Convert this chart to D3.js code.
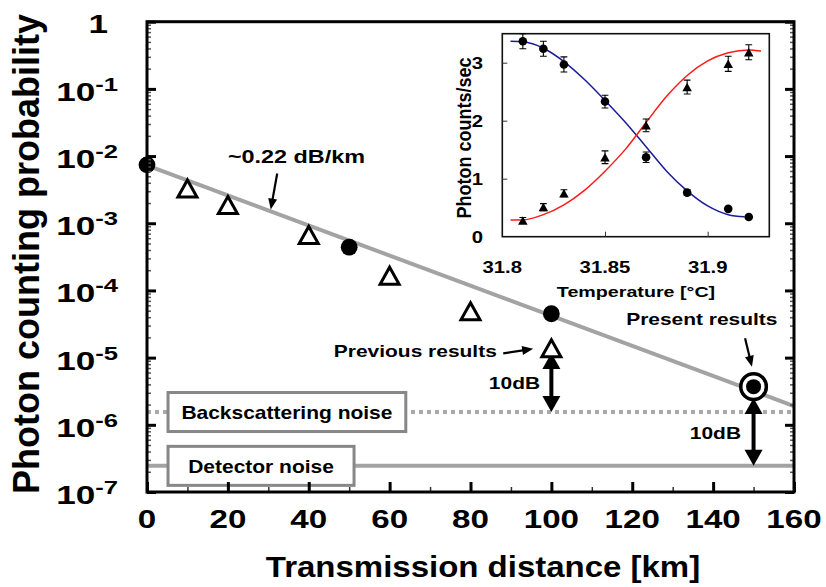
<!DOCTYPE html>
<html>
<head>
<meta charset="utf-8">
<script src="https://cdn.jsdelivr.net/npm/d3@7"></script>
<style>
  body { margin: 0; background: #fff; }
  text { font-family: "Liberation Sans", Arial, Helvetica, sans-serif; font-weight: bold; fill: #000; }
</style>
</head>
<body>
<svg id="chart" width="826" height="587"></svg>
<script>
// ---- main plot values ----
const presentKm = [0, 50, 100, 150];
const presentProb = [7.4e-3, 4.4e-4, 4.5e-5, 3.7e-6];
const previousKm = [10, 20, 40, 60, 80, 100];
const previousProb = [3.3e-3, 1.87e-3, 6.7e-4, 1.66e-4, 4.9e-5, 1.38e-5];
const fitKm = [0, 160];
const fitProb = [7.3e-3, 1.9e-6];
const backscatterNoise = 1.55e-6;
const detectorNoise = 2.45e-7;
const dbArrowKm = [100, 150];
const dbArrowTop = [1.17e-5, 2.5e-6];
const dbArrowBottom = [backscatterNoise, detectorNoise];
const xTicks = [0, 20, 40, 60, 80, 100, 120, 140, 160];
const xMinorTicks = [10, 30, 50, 70, 90, 110, 130, 150];
const yExponents = [0, -1, -2, -3, -4, -5, -6, -7];

// ---- inset values ----
const tempC = [31.81, 31.82, 31.83, 31.85, 31.87, 31.89, 31.91, 31.92];
const countsCircle = [3.37, 3.24, 2.97, 2.33, 1.37, 0.76, 0.48, 0.34];
const errCircle = [0.13, 0.13, 0.13, 0.11, 0.09, 0.05, 0, 0];
const countsTriangle = [0.28, 0.51, 0.75, 1.37, 1.92, 2.58, 2.98, 3.18];
const errTriangle = [0.05, 0.06, 0.06, 0.11, 0.11, 0.12, 0.13, 0.13];
// fitted curves
const blueTemp = [31.804, 31.81, 31.82, 31.83, 31.84, 31.85, 31.86, 31.87, 31.88, 31.89, 31.90, 31.91, 31.918];
const blueCounts = [3.37, 3.36, 3.25, 3.02, 2.71, 2.35, 1.97, 1.55, 1.13, 0.79, 0.53, 0.38, 0.345];
const redTemp = [31.804, 31.81, 31.82, 31.83, 31.84, 31.85, 31.86, 31.87, 31.88, 31.89, 31.90, 31.91, 31.92, 31.926];
const redCounts = [0.29, 0.29, 0.38, 0.55, 0.80, 1.13, 1.51, 1.97, 2.42, 2.78, 3.03, 3.17, 3.22, 3.20];
const insetXTicks = [31.8, 31.85, 31.9];
const insetYTicks = [0, 1, 2, 3];

const svg = d3.select("#chart");
const plot = {left: 147, right: 794, top: 21.7, bottom: 492};

const x = d3.scaleLinear().domain([0, 160]).range([plot.left, plot.right]);
const y = d3.scaleLog().domain([1e-7, 1]).range([plot.bottom, plot.top]);

const gray = "#a3a3a3";
const boxGray = "#878787";

// horizontal text is drawn a bit wider than the font, like the picture
function label(parent, px, py, str, size, anchor, sx) {
    return parent.append("text")
        .attr("transform", `translate(${px},${py}) scale(${sx},1)`)
        .attr("text-anchor", anchor)
        .style("font-size", size + "px")
        .text(str);
}

function arrowHead(parent, tx, ty, fx, fy, len, wid) {
    const dx = tx - fx, dy = ty - fy, d = Math.hypot(dx, dy);
    const ux = dx / d, uy = dy / d;
    const bx = tx - ux * len, by = ty - uy * len;
    const nx = -uy * wid / 2, ny = ux * wid / 2;
    parent.append("path")
        .attr("d", `M${tx},${ty}L${bx + nx},${by + ny}L${bx - nx},${by - ny}Z`)
        .attr("fill", "#000");
}

function arrow(parent, fx, fy, tx, ty, width, len, wid) {
    const d = Math.hypot(tx - fx, ty - fy);
    const ex = tx - (tx - fx) / d * len * 0.8, ey = ty - (ty - fy) / d * len * 0.8;
    parent.append("line").attr("x1", fx).attr("y1", fy).attr("x2", ex).attr("y2", ey)
        .attr("stroke", "#000").attr("stroke-width", width);
    arrowHead(parent, tx, ty, fx, fy, len, wid);
}

// ---- noise levels and their labels ----
svg.append("line")
    .attr("x1", plot.left).attr("x2", plot.right)
    .attr("y1", y(backscatterNoise)).attr("y2", y(backscatterNoise))
    .attr("stroke", "#aaaaaa").attr("stroke-width", 4).attr("stroke-dasharray", "4,4");
svg.append("line")
    .attr("x1", plot.left).attr("x2", plot.right)
    .attr("y1", y(detectorNoise)).attr("y2", y(detectorNoise))
    .attr("stroke", gray).attr("stroke-width", 4);

const noiseBoxes = [
    {text: "Backscattering noise", level: backscatterNoise, km0: 5.2, km1: 64},
    {text: "Detector noise", level: detectorNoise, km0: 5.2, km1: 51.2}
];
noiseBoxes.forEach(b => {
    const cy = y(b.level);
    svg.append("rect")
        .attr("x", x(b.km0)).attr("y", cy - 19.5)
        .attr("width", x(b.km1) - x(b.km0)).attr("height", 39)
        .attr("fill", "#fff").attr("stroke", boxGray).attr("stroke-width", 3);
    label(svg, (x(b.km0) + x(b.km1)) / 2, cy + 7, b.text, 17.5, "middle", 1.2);
});

// ---- fitted attenuation line ----
svg.append("path")
    .datum(d3.zip(fitKm, fitProb))
    .attr("d", d3.line().x(d => x(d[0])).y(d => y(d[1])))
    .attr("fill", "none").attr("stroke", gray).attr("stroke-width", 4);

// ---- 10 dB double arrows ----
dbArrowKm.forEach((km, i) => {
    const px = x(km), t = y(dbArrowTop[i]), b = y(dbArrowBottom[i]);
    svg.append("line").attr("x1", px).attr("x2", px).attr("y1", t + 12).attr("y2", b - 12)
        .attr("stroke", "#000").attr("stroke-width", 4);
    arrowHead(svg, px, t, px, b, 16, 18);
    arrowHead(svg, px, b, px, t, 16, 18);
});
label(svg, x(97.2), y(3.4e-6), "10dB", 16.5, "end", 1.27);
label(svg, x(146.9), y(6.2e-7), "10dB", 16.5, "end", 1.27);

// ---- markers ----
const tri = (w, h) => `M0,${-h / 2}L${w / 2},${h / 2}L${-w / 2},${h / 2}Z`;
svg.selectAll(".prev").data(d3.zip(previousKm, previousProb)).join("path")
    .attr("class", "prev")
    .attr("d", tri(19, 17))
    .attr("transform", d => `translate(${x(d[0])},${y(d[1])})`)
    .attr("fill", "#fff").attr("stroke", "#000").attr("stroke-width", 3);

// ring around the present 150 km result
svg.append("circle")
    .attr("cx", x(presentKm[3])).attr("cy", y(presentProb[3])).attr("r", 12.8)
    .attr("fill", "#fff").attr("stroke", "#000").attr("stroke-width", 3.5);
svg.selectAll(".pres").data(d3.zip(presentKm, presentProb)).join("circle")
    .attr("class", "pres")
    .attr("cx", d => x(d[0])).attr("cy", d => y(d[1]))
    .attr("r", (d, i) => i === 3 ? 7.5 : 8.4)
    .attr("fill", "#000");

// ---- annotations ----
label(svg, x(20), y(7.8e-3), "~0.22 dB/km", 18, "start", 1.3);
arrow(svg, x(32.2), y(5.5e-3), x(30.6), y(1.6e-3), 2.2, 11, 9);
label(svg, x(86.5), y(1.02e-5), "Previous results", 16.5, "end", 1.27);
arrow(svg, x(88.1), y(1.16e-5), x(95.5), y(1.35e-5), 2.2, 11, 9);
label(svg, x(137.2), y(3.06e-5), "Present results", 16.5, "middle", 1.27);
arrow(svg, x(147.9), y(1.94e-5), x(149.6), y(7.3e-6), 2.2, 11, 9);

// ---- axes ----
const minorY = [];
yExponents.slice(0, -1).forEach(e => d3.range(2, 10).forEach(m => minorY.push(m * Math.pow(10, e - 1))));
const decades = yExponents.map(e => Math.pow(10, e));

function styleAxis(g, width, color) {
    g.select(".domain").remove();
    g.selectAll(".tick line").attr("stroke", color).attr("stroke-width", width);
    g.selectAll(".tick text").remove();
}

svg.append("g").attr("transform", `translate(0,${plot.bottom})`)
    .call(d3.axisBottom(x).tickValues(xMinorTicks).tickSizeInner(-5).tickSizeOuter(0))
    .call(g => styleAxis(g, 1.5, "#333"));
svg.append("g").attr("transform", `translate(0,${plot.bottom})`)
    .call(d3.axisBottom(x).tickValues(xTicks).tickSizeInner(-10).tickSizeOuter(0))
    .call(g => styleAxis(g, 3, "#000"));
[[d3.axisLeft, plot.left], [d3.axisRight, plot.right]].forEach(([ax, px]) => {
    svg.append("g").attr("transform", `translate(${px},0)`)
        .call(ax(y).tickValues(minorY).tickSizeInner(-4).tickSizeOuter(0))
        .call(g => styleAxis(g, 1.5, "#555"));
    svg.append("g").attr("transform", `translate(${px},0)`)
        .call(ax(y).tickValues(decades).tickSizeInner(-9).tickSizeOuter(0))
        .call(g => styleAxis(g, 3, "#000"));
});

svg.append("rect")
    .attr("x", plot.left).attr("y", plot.top)
    .attr("width", plot.right - plot.left).attr("height", plot.bottom - plot.top)
    .attr("fill", "none").attr("stroke", "#000").attr("stroke-width", 3);

xTicks.forEach(v => label(svg, x(v), 528, v, 25.5, "middle", 1.3));
yExponents.forEach(e => {
    if (e === 0) {
        label(svg, 108, y(1) + 11, "1", 26, "end", 1.35);
    } else {
        const t = label(svg, 118, y(Math.pow(10, e)) + 12, "10", 26, "end", 1.35);
        t.append("tspan").attr("dy", -10).style("font-size", "19px").text(e);
    }
});

label(svg, 483, 577, "Transmission distance [km]", 30, "middle", 1.1);
svg.append("text")
    .attr("transform", "translate(39,254) rotate(-90)")
    .attr("text-anchor", "middle")
    .style("font-size", "36px")
    .text("Photon counting probability");

// ---- inset ----
const inset = svg.append("g");
const ix = d3.scaleLinear().domain([31.8, 31.93]).range([502.3, 769.3]);
const iy = d3.scaleLinear().domain([0, 3.5]).range([236.7, 33.7]);

inset.append("rect")
    .attr("x", ix.range()[0]).attr("y", iy.range()[1])
    .attr("width", ix.range()[1] - ix.range()[0]).attr("height", iy.range()[0] - iy.range()[1])
    .attr("fill", "#fff").attr("stroke", "#111").attr("stroke-width", 1.6);

inset.append("g").attr("transform", `translate(0,${iy.range()[0]})`)
    .call(d3.axisBottom(ix).tickValues(insetXTicks.slice(1)).tickSizeInner(-5).tickSizeOuter(0))
    .call(g => styleAxis(g, 1, "#333"));
inset.append("g").attr("transform", `translate(${ix.range()[0]},0)`)
    .call(d3.axisLeft(iy).tickValues(insetYTicks.slice(1)).tickSizeInner(-5).tickSizeOuter(0))
    .call(g => styleAxis(g, 1, "#333"));

const curve = d3.line().x(d => ix(d[0])).y(d => iy(d[1])).curve(d3.curveMonotoneX);
inset.append("path").datum(d3.zip(blueTemp, blueCounts)).attr("d", curve)
    .attr("fill", "none").attr("stroke", "#1c1c96").attr("stroke-width", 1.5);
inset.append("path").datum(d3.zip(redTemp, redCounts)).attr("d", curve)
    .attr("fill", "none").attr("stroke", "#ff1a1a").attr("stroke-width", 1.5);

function errorBars(vals, errs) {
    tempC.forEach((t, i) => {
        if (!errs[i]) return;
        const px = ix(t), lo = iy(vals[i] - errs[i]), hi = iy(vals[i] + errs[i]);
        inset.append("path")
            .attr("d", `M${px},${lo}V${hi}M${px - 3.4},${lo}H${px + 3.4}M${px - 3.4},${hi}H${px + 3.4}`)
            .attr("stroke", "#000").attr("stroke-width", 1.1).attr("fill", "none");
    });
}
errorBars(countsCircle, errCircle);
errorBars(countsTriangle, errTriangle);

inset.selectAll(".ic").data(d3.zip(tempC, countsCircle)).join("circle")
    .attr("cx", d => ix(d[0])).attr("cy", d => iy(d[1])).attr("r", 4.3).attr("fill", "#000");
inset.selectAll(".it").data(d3.zip(tempC, countsTriangle)).join("path")
    .attr("d", tri(9.5, 8.5))
    .attr("transform", d => `translate(${ix(d[0])},${iy(d[1])})`)
    .attr("fill", "#000");

insetYTicks.forEach(v => label(inset, 483, iy(v) + 6, v, 16, "end", 1.27));
insetXTicks.forEach(v => label(inset, ix(v), 273, v, 16, "middle", 1.27));
label(inset, 636, 297, "Temperature [°C]", 15.5, "middle", 1.27);
inset.append("text")
    .attr("transform", "translate(471,138) scale(1.15,1) rotate(-90)")
    .attr("text-anchor", "middle")
    .style("font-size", "18px")
    .text("Photon counts/sec");
</script>
</body>
</html>
